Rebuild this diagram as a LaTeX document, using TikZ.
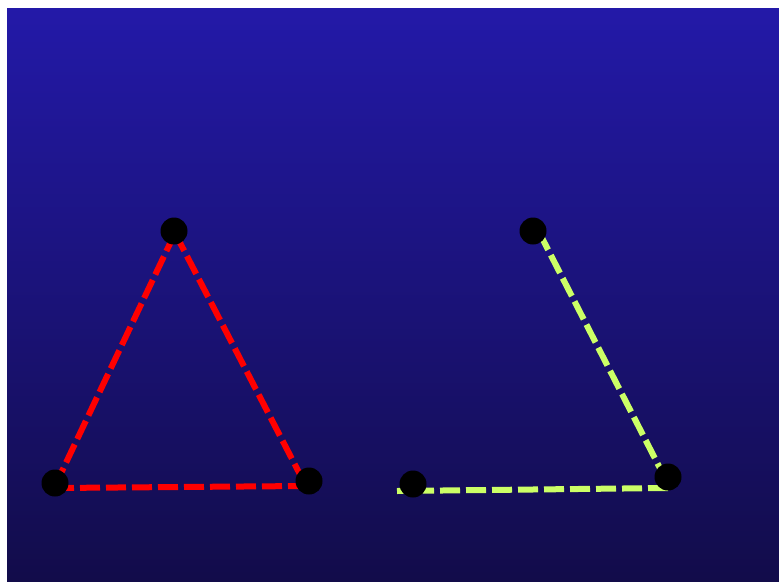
\documentclass[tikz,border=0pt]{standalone}
\usetikzlibrary{positioning}

\definecolor{skytop}{RGB}{35,25,168}
\definecolor{skybottom}{RGB}{18,12,74}
\definecolor{limeline}{RGB}{204,255,102}

\begin{document}
\begin{tikzpicture}[
        x=1pt, y=-1pt,
        dot/.style={circle, fill=black, inner sep=0pt, minimum size=27pt},
        redline/.style={red, line width=6pt, dash pattern=on 20pt off 6pt},
        limedash/.style={limeline, line width=6pt, dash pattern=on 20pt off 6pt}
    ]

    % ==========================================
    % BACKGROUND
    % ==========================================
    \useasboundingbox (0,0) rectangle (779,581);
    \fill[white] (0,0) rectangle (779,581);
    \shade[top color=skytop, bottom color=skybottom] (7,8) rectangle (779,581);

    % ==========================================
    % LEFT: closed red triangle
    % ==========================================
    \coordinate (ra) at (175,233);
    \coordinate (rb) at (54,488);
    \coordinate (rc) at (306,486);

    \draw[redline] (ra) -- (rb);
    \draw[redline] (ra) -- (rc);
    \draw[redline] (rb) -- (rc);

    \node[dot] (topleft) at (174,231) {};
    \node[dot] (lowleft) at (55,483) {};
    \node[dot] (lowmid) at (309,481) {};

    % ==========================================
    % RIGHT: open lime path
    % ==========================================
    \coordinate (ga) at (539,232);
    \coordinate (gb) at (665,478);
    \coordinate (gc) at (668,488);
    \coordinate (gd) at (397,491);

    \draw[limedash] (ga) -- (gb);
    \draw[limedash] (gc) -- (gd);

    \node[dot] (topright) at (533,231) {};
    \node[dot] (lowright) at (668,477) {};
    \node[dot] (lowcentre) at (413,484) {};

\end{tikzpicture}
\end{document}
